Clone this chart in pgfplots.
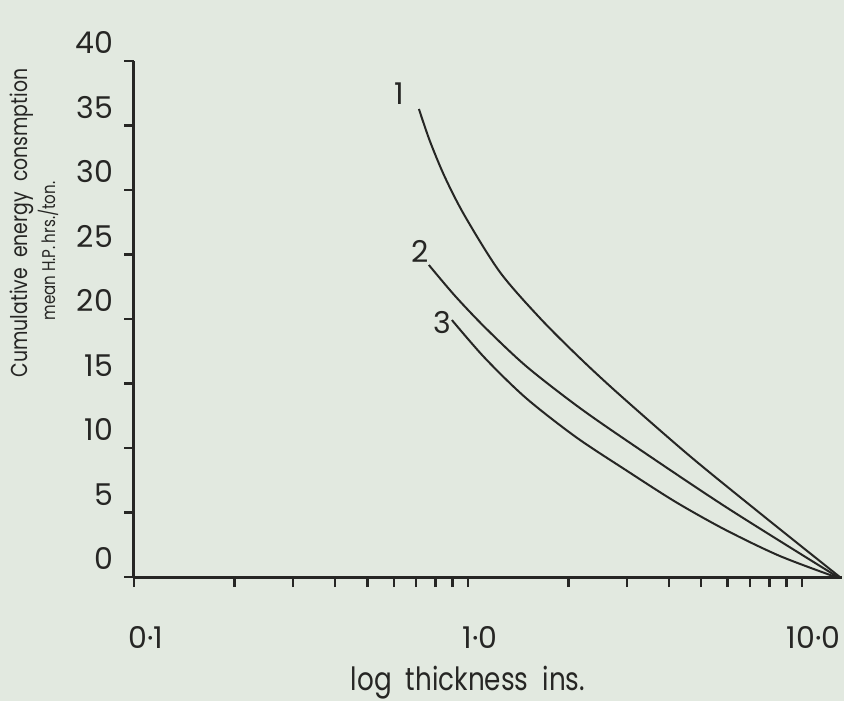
\documentclass[border=0pt]{standalone}
\usepackage{fontspec}
\setmainfont{Poppins}
\newfontfamily\narrowfont{Poppins}[FakeStretch=0.82]
\usepackage{pgfplots}
\pgfplotsset{compat=1.18}
\definecolor{bg}{RGB}{226,233,224}
\definecolor{ink}{RGB}{38,38,36}
\begin{document}
\begin{tikzpicture}[x=1pt,y=1pt]
\fill[bg] (0,0) rectangle (422,350.5);
\begin{axis}[
  at={(67pt,62pt)}, anchor=south west,
  width=354pt, height=258pt, scale only axis,
  xmode=log, xmin=0.1, xmax=13.2, ymin=0, ymax=40,
  axis x line=bottom, axis y line=left,
  axis line style={ink, line width=1.5pt, -},
  xtick={0.1,1,10}, xticklabels={0·1,1·0,10·0},
  minor xtick={0.2,0.3,0.4,0.5,0.6,0.7,0.8,0.9,2,3,4,5,6,7,8,9},
  ytick={0,5,10,15,20,25,30,35,40},
  tick align=outside, major tick length=5pt, minor tick length=5pt,
  tick style={ink, line width=1.2pt},
  /pgf/number format/assume math mode=true,
  ticklabel style={font=\fontsize{15}{15}\selectfont, text=ink},
  xticklabel style={anchor=north, yshift=-16pt, xshift=6pt},
  yticklabel style={anchor=south east, xshift=-2pt, yshift=0pt},
  clip=false,
]
% curve 1
\addplot[ink, line width=1pt, smooth] coordinates {
 (0.7135,36.28) (0.7694,33.80) (0.853,31.01) (0.9795,27.98) (1.247,23.64)
 (1.643,20.08) (2.164,16.98) (2.852,14.11) (4.620,9.38) (7.487,4.96) (13.0,0)};
% curve 2
\addplot[ink, line width=1pt, smooth] coordinates {
 (0.764,24.19) (0.916,21.78) (1.13,19.30) (1.492,16.36) (2.106,13.33)
 (2.972,10.62) (5.923,5.43) (12.82,0)};
% curve 3
\addplot[ink, line width=1pt, smooth] coordinates {
 (0.8956,19.92) (1.124,16.98) (1.492,13.88) (2.106,10.85) (2.972,8.29)
 (4.196,5.81) (5.923,3.64) (8.594,1.63) (12.64,0)};
\node[font=\fontsize{15}{15}\selectfont, text=ink] at (axis cs:0.625,37.5) {1};
\node[font=\fontsize{15}{15}\selectfont, text=ink] at (axis cs:0.718,25.2) {2};
\node[font=\fontsize{15}{15}\selectfont, text=ink] at (axis cs:0.836,19.7) {3};
\end{axis}
\node[rotate=90, text=ink, font=\narrowfont\fontsize{11.5}{11.5}\selectfont] at (11,239) {Cumulative\ \ energy\ \ consmption};
\node[rotate=90, text=ink, font=\narrowfont\fontsize{9.2}{9.2}\selectfont] at (24,225) {mean H.P.\,hrs./ton.};
\node[anchor=base, text=ink, font=\narrowfont\fontsize{16}{16}\selectfont] at (234,5.5) {log\hspace{7pt}thickness\hspace{7pt}ins.};
\pgfresetboundingbox
\path (0,0) rectangle (422,350.5);
\end{tikzpicture}
\end{document}
